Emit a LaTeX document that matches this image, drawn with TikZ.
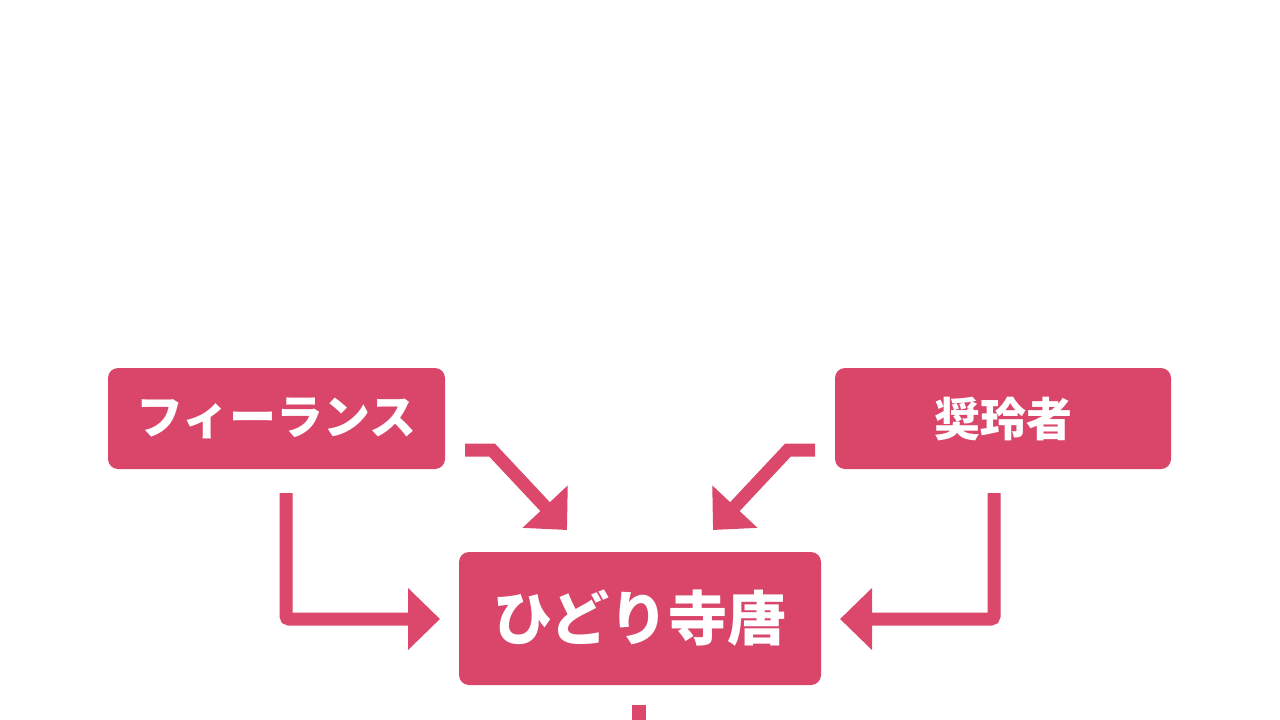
\documentclass[tikz,border=0pt]{standalone}
\usepackage{fontspec}
\newfontfamily\cjk{Noto Sans CJK JP}
\usetikzlibrary{arrows.meta}
\definecolor{boxred}{HTML}{D9466A}
\definecolor{arrred}{HTML}{DB486B}
\tikzset{
  box/.style={draw=none, fill=boxred, rounded corners=10pt, text=white, font=\cjk\bfseries, inner sep=0pt},
  conn/.style={draw=arrred, line width=13pt, -{Triangle[length=32pt,width=60pt]}, fill=none},
  plainconn/.style={draw=arrred, line width=14pt},
}
\begin{document}
\begin{tikzpicture}[x=1pt,y=-1pt]
\useasboundingbox[fill=white] (0,0) rectangle (1280,720);
\node[box, minimum width=337pt, minimum height=101pt, font=\cjk\bfseries\fontsize{47}{47}\selectfont] (fr) at (276.5,418.5) {フィーランス};
\node[box, minimum width=336pt, minimum height=101pt, font=\cjk\bfseries\fontsize{46}{46}\selectfont] (sh) at (1003,418.5) {奨玲者};
\node[box, minimum width=362pt, minimum height=133pt, font=\cjk\bfseries\fontsize{59}{59}\selectfont] (hd) at (640,618.5) {ひどり寺唐};
% free ends
\coordinate (l1s) at (286,493);
\coordinate (l1e) at (440,619);
\coordinate (d1s) at (465,450);
\coordinate (d1c) at (492,450);
\coordinate (d1e) at (567,530);
\coordinate (d2s) at (815,450);
\coordinate (d2c) at (788,450);
\coordinate (d2e) at (713,530);
\coordinate (r1s) at (994,493);
\coordinate (r1e) at (840,619);
\coordinate (bs) at (639,705);
\coordinate (be) at (639,730);
\draw[conn, rounded corners=3pt] (l1s) |- (l1e);
\draw[conn, rounded corners=3pt] (r1s) |- (r1e);
\draw[conn] (d1s) -- (d1c) -- (d1e);
\draw[conn] (d2s) -- (d2c) -- (d2e);
\draw[plainconn] (bs) -- (be);
\end{tikzpicture}
\end{document}
